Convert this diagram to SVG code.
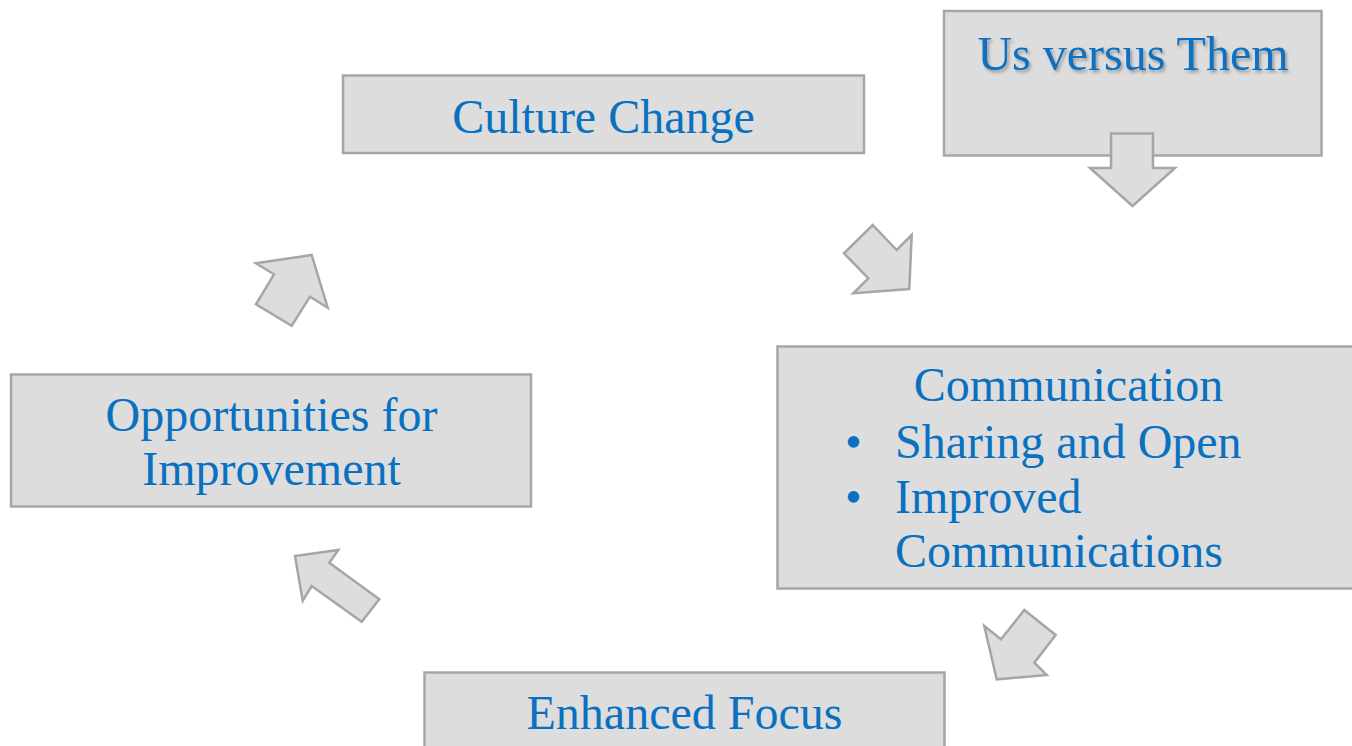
<svg xmlns="http://www.w3.org/2000/svg" width="1352" height="746" viewBox="0 0 1352 746">
  <style>
    .box { fill: #dddddd; stroke: #a6a6a6; stroke-width: 2.5; }
    .arrow { fill: #dddddd; stroke: #a6a6a6; stroke-width: 2.5; stroke-linejoin: miter; }
    .label { font-family: "Liberation Serif", "Times New Roman", serif; font-size: 48px; fill: #0a70c0; }
    .mid { text-anchor: middle; }
  </style>
  <defs>
    <filter id="textShadow" x="-10%" y="-30%" width="120%" height="160%">
      <feDropShadow dx="2" dy="2.5" stdDeviation="1.6" flood-color="#000000" flood-opacity="0.3"/>
    </filter>
  </defs>
  <rect width="1352" height="746" fill="#ffffff"/>

  <g id="node-culture-change">
    <rect class="box" x="343" y="75.5" width="521" height="77.5"/>
    <text class="label mid" x="603.5" y="132.5">Culture Change</text>
  </g>

  <g id="node-us-versus-them">
    <rect class="box" x="944" y="11" width="377.5" height="144.5"/>
    <text class="label mid" x="1133" y="69.5" filter="url(#textShadow)">Us versus Them</text>
  </g>

  <g id="node-communication">
    <rect class="box" x="777.5" y="346.5" width="580" height="242"/>
    <text class="label mid" x="1068.5" y="401">Communication</text>
    <text class="label" x="845" y="457.5">•</text>
    <text class="label" x="895" y="457.5">Sharing and Open</text>
    <text class="label" x="845" y="512.5">•</text>
    <text class="label" x="895" y="512.5">Improved</text>
    <text class="label" x="895" y="567">Communications</text>
  </g>

  <g id="node-enhanced-focus">
    <rect class="box" x="424.5" y="672.5" width="520" height="80"/>
    <text class="label mid" x="684.5" y="728.5">Enhanced Focus</text>
  </g>

  <g id="node-opportunities">
    <rect class="box" x="11" y="374.5" width="520" height="132"/>
    <text class="label mid" x="271.5" y="430.5">Opportunities for</text>
    <text class="label mid" x="271.5" y="484.5">Improvement</text>
  </g>

  <g id="connectors">
    <polygon class="arrow" points="1111,133.5 1153,133.5 1153,168 1175,168 1132.5,206 1090,168 1111,168"/>
    <polygon class="arrow" points="872.7,225 896.7,250 911.7,235 909.3,289 853.3,293.3 868.3,278.3 844,253.3"/>
    <polygon class="arrow" points="1024.3,610 1055.7,635 1034.3,662.7 1046.7,675 996.7,679.3 984.3,626 1001,639.3"/>
    <polygon class="arrow" points="338.3,550 329.3,562.7 379.3,599.3 361.7,621.7 311.7,586 302.7,600.7 295,556"/>
    <polygon class="arrow" points="311.7,255 327.7,307.7 310,296.7 291.7,325.7 256,304.3 274,274.3 256,263.3"/>
  </g>
</svg>
